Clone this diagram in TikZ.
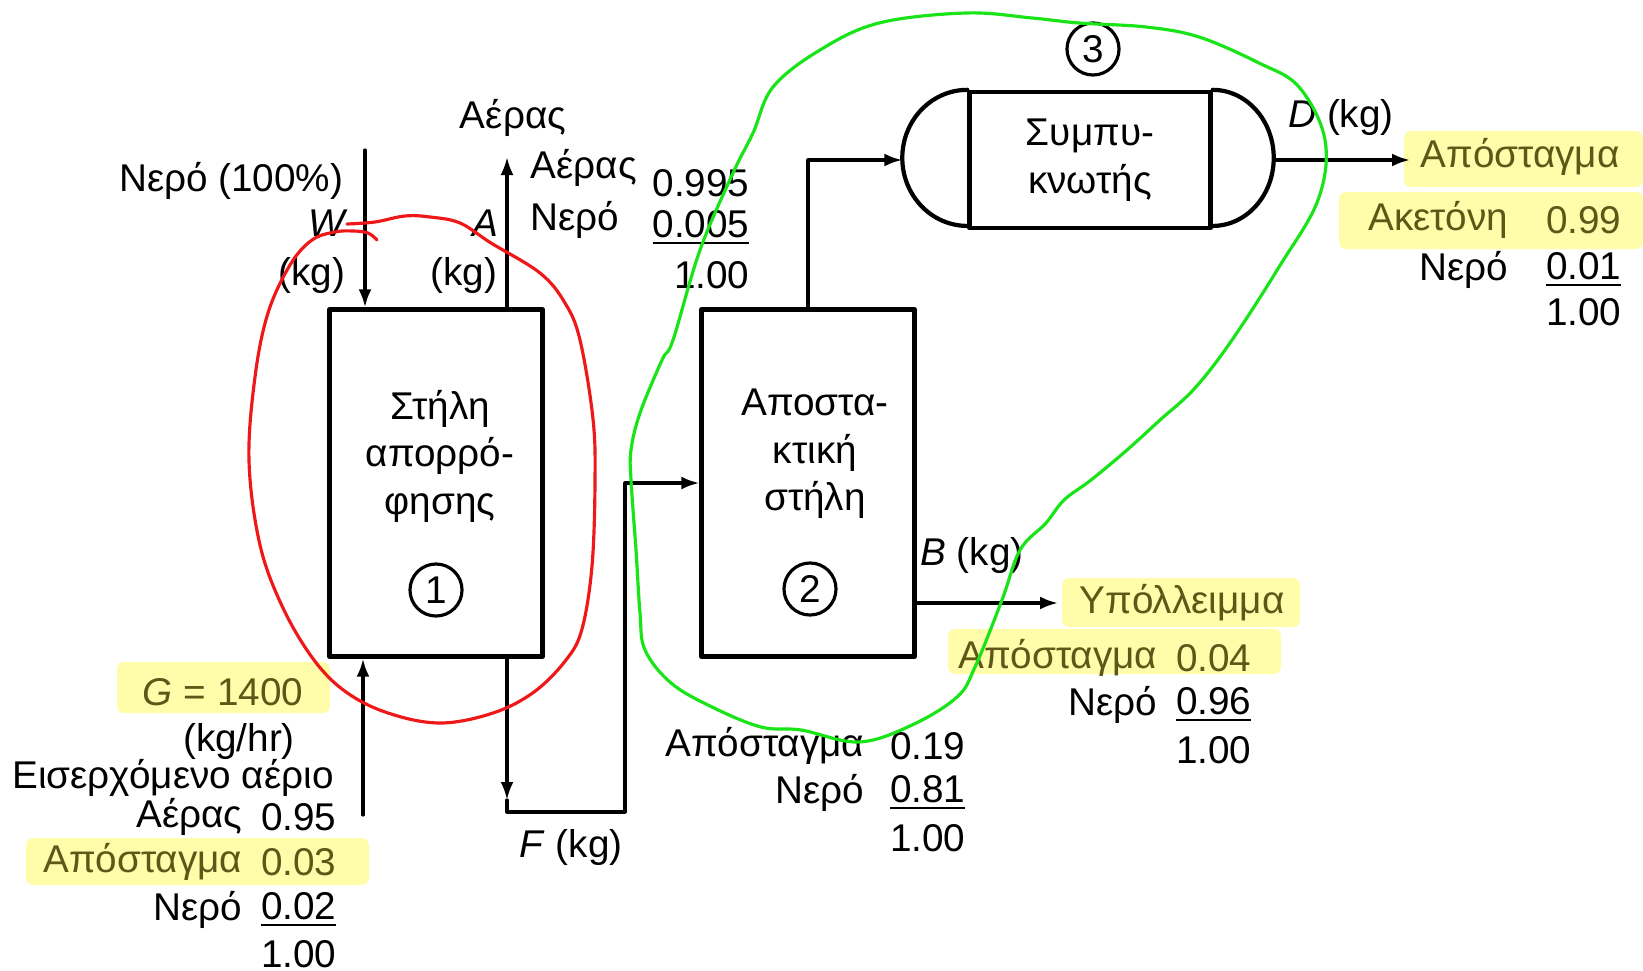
\documentclass[tikz,border=0pt]{standalone}
\usepackage{fontspec}
\setmainfont{Liberation Sans}
\usetikzlibrary{arrows.meta,positioning}
\definecolor{loopred}{RGB}{238,24,24}
\definecolor{loopgreen}{RGB}{24,228,24}
\definecolor{marker}{RGB}{255,252,170}
\definecolor{markertext}{RGB}{92,88,24}

\begin{document}
\begin{tikzpicture}[>={Latex[length=1.8mm,width=1.3mm]},line cap=round,line join=round,
 x=0.01cm,y=-0.01cm,
 lbl/.style={font=\fontsize{11}{13.5}\selectfont,inner sep=0pt},
 mk/.style={lbl,text=markertext},
 unit/.style={draw,line width=1.2pt,inner sep=0pt},
 flow/.style={line width=0.9pt},
 tag/.style={circle,draw,line width=0.9pt,minimum size=0.52cm,inner sep=0pt,
             font=\fontsize{11}{13}\selectfont},
 hl/.style={fill=marker,rounded corners=2pt}]
 \useasboundingbox (0,0) rectangle (1643,970);
 % Σημειώσεις με κίτρινο.
 \fill[hl] (117,662) rectangle (330,713);
 \fill[hl] (26,838) rectangle (369,885);
 \fill[hl] (1062,578) rectangle (1300,627);
 \fill[hl] (948,629) rectangle (1281,674);
 \fill[hl] (1404,131) rectangle (1643,187);
 \fill[hl] (1339,192) rectangle (1643,249);
 % Μονάδες.
 \node[unit,minimum width=2.13cm,minimum height=3.47cm] (absorber) at (436,483) {};
 \node[unit,minimum width=2.13cm,minimum height=3.47cm] (column) at (808,483) {};
 \node[unit,lbl,align=center,minimum width=2.41cm,minimum height=1.36cm]
  (cond) at (1090,160) {Συμπυ-\\κνωτής};
 \draw[line width=1.2pt] (cond.north west)
  arc[start angle=90,end angle=270,x radius=0.65cm,y radius=0.68cm];
 \draw[line width=1.2pt] (cond.north east)
  arc[start angle=90,end angle=-90,x radius=0.61cm,y radius=0.68cm];
 \coordinate (condin) at ([xshift=-0.65cm]cond.west);
 \coordinate (condout) at ([xshift=0.61cm]cond.east);
 \node[lbl,align=center] (abstext) at (440,456) {Στήλη\\απορρό-\\φησης};
 \node[lbl,align=center] (coltext) at (815,454) {Αποστα-\\κτική\\στήλη};
 \node[tag] (t1) at (436,590) {1};
 \node[tag] (t2) at (810,589) {2};
 \node[tag] (t3) at (1093,49) {3};
 % Ρεύματα.
 \coordinate (win) at (365,150);
 \draw[flow,->] (win) -- (win |- absorber.north);
 \coordinate (aout) at (507,157);
 \draw[flow,->] (aout |- absorber.north) -- (aout);
 \coordinate (gin) at (363,815);
 \draw[flow,->] (gin) -- (gin |- absorber.south);
 \coordinate (fdown) at (507,800);
 \coordinate (fcorner) at (507,812);
 \coordinate (fup) at (625,812);
 \draw[flow,->] (fdown |- absorber.south) -- (fdown);
 \draw[flow,->] (fdown) -- (fcorner) -- (fup) -- (fup |- column.west) -- (column.west);
 \draw[flow,->] (column.north) -- (column.north |- condin) -- (condin);
 \coordinate (dout) at (1410,160);
 \draw[flow,->] (condout) -- (dout);
 \coordinate (bout) at (1058,603);
 \draw[flow,->] (bout -| column.east) -- (bout);
 % Ετικέτες ρευμάτων.
 \node[lbl] (airtop) at (513,118) {Αέρας};
 \node[lbl,anchor=east] (water) at (344,181) {Νερό (100\%)};
 \node[lbl] (wlbl) at (328,223) {\textit{W}};
 \node[lbl] (wkg) at (312,275) {(kg)};
 \node[lbl] (albl) at (485,223) {\textit{A}};
 \node[lbl] (akg) at (464,275) {(kg)};
 \node[lbl] (flbl) at (571,847) {\textit{F} (kg)};
 \node[lbl] (dlbl) at (1341,117) {\textit{D} (kg)};
 \node[lbl] (blbl) at (972,555) {\textit{B} (kg)};
 \node[mk] (glbl) at (223,692) {\textit{G} = 1400};
 \node[lbl] (gunit) at (239,741) {(kg/hr)};
 \node[lbl] (gname) at (173,778) {Εισερχόμενο αέριο};
 % Σύσταση αερίου εξόδου.
 \node[lbl,anchor=west] (a1) at (530,168) {Αέρας};
 \node[lbl,anchor=west] (a2) at (530,220) {Νερό};
 \node[lbl,anchor=east] (a1v) at (750,183) {0.995};
 \node[lbl,anchor=east] (a2v) at (750,228) {\underline{0.005}};
 \node[lbl,anchor=east] (asum) at (750,275) {1.00};
 % Σύσταση εισόδου G.
 \node[lbl,anchor=east] (g1) at (243,817) {Αέρας};
 \node[lbl,anchor=east] (g1v) at (337,817) {0.95};
 \node[mk,anchor=east] (g2) at (243,862) {Απόσταγμα};
 \node[mk,anchor=east] (g2v) at (337,862) {0.03};
 \node[lbl,anchor=east] (g3) at (243,910) {Νερό};
 \node[lbl,anchor=east] (g3v) at (337,910) {\underline{0.02}};
 \node[lbl,anchor=east] (gsum) at (337,954) {1.00};
 % Σύσταση F.
 \node[lbl,anchor=east] (f1) at (865,746) {Απόσταγμα};
 \node[lbl,anchor=east] (f1v) at (966,746) {0.19};
 \node[lbl,anchor=east] (f2) at (865,793) {Νερό};
 \node[lbl,anchor=east] (f2v) at (966,793) {\underline{0.81}};
 \node[lbl,anchor=east] (fsum) at (966,838) {1.00};
 % Σύσταση D.
 \node[mk] (dname) at (1520,157) {Απόσταγμα};
 \node[mk,anchor=east] (d1) at (1509,220) {Ακετόνη};
 \node[mk,anchor=east] (d1v) at (1622,220) {0.99};
 \node[lbl,anchor=east] (d2) at (1509,270) {Νερό};
 \node[lbl,anchor=east] (d2v) at (1622,270) {\underline{0.01}};
 \node[lbl,anchor=east] (dsum) at (1622,312) {1.00};
 % Σύσταση B.
 \node[mk] (bname) at (1182,603) {Υπόλλειμμα};
 \node[mk,anchor=east] (b1) at (1158,658) {Απόσταγμα};
 \node[mk,anchor=east] (b1v) at (1252,658) {0.04};
 \node[lbl,anchor=east] (b2) at (1158,705) {Νερό};
 \node[lbl,anchor=east] (b2v) at (1252,705) {\underline{0.96}};
 \node[lbl,anchor=east] (bsum) at (1252,750) {1.00};
 % Όρια συστημάτων, με το χέρι.
 \draw[loopred,line width=0.9pt] plot[smooth,tension=0.6] coordinates {
  (347,224) (375,222) (405,216) (430,217) (460,223) (491,243) (540,273)
  (565,303) (580,340) (593,419) (595,482) (592,566) (582,629) (566,660)
  (534,692) (493,713) (440,723) (388,713) (346,692) (314,660) (283,608)
  (260,545) (249,461) (255,377) (268,313) (290,265) (312,240) (335,232)
  (353,231) (368,233) (377,240)};
 \draw[loopgreen,line width=0.9pt] plot[smooth cycle,tension=0.6] coordinates {
  (631,450) (631,480) (636,550) (640,613) (645,650) (671,683) (712,707)
  (761,727) (801,730) (859,742) (912,725) (957,697) (975,667) (1002,600)
  (1020,550) (1046,523) (1064,500) (1091,480) (1127,450) (1160,420)
  (1195,388) (1232,340) (1279,267) (1318,200) (1325,140) (1299,87)
  (1259,63) (1199,37) (1146,27) (1079,23) (1032,18) (966,13) (879,23)
  (820,50) (773,87) (753,133) (733,173) (700,250) (673,340) (662,360)
  (640,413)};
\end{tikzpicture}
\end{document}
